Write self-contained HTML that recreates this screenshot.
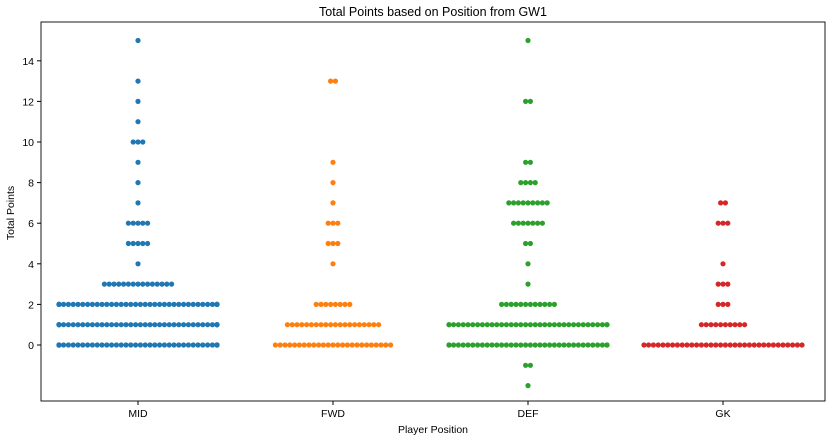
<!DOCTYPE html>
<html><head><meta charset="utf-8"><style>
body{margin:0;background:#fff;font-family:"Liberation Sans","DejaVu Sans",sans-serif}
svg text{font-family:"Liberation Sans","DejaVu Sans",sans-serif;fill:#000}
</style></head><body>
<svg id="chart" width="829" height="441">
<text x="433" y="16" text-anchor="middle" font-size="12.5">Total Points based on Position from GW1</text>
<rect x="41" y="22" width="784" height="379" fill="none" stroke="#000" stroke-width="0.9"/>
<g id="yaxis"></g>
<g id="xaxis"></g>
<g id="dots"></g>
<text x="433" y="433" text-anchor="middle" font-size="10.5">Player Position</text>
<text transform="translate(14,213) rotate(-90)" text-anchor="middle" font-size="10.5">Total Points</text>
</svg>
<script>
const categories = ["MID","FWD","DEF","GK"];
const colors = ["#1f77b4","#ff7f0e","#2ca02c","#d62728"];
const yTicks = [0,2,4,6,8,10,12,14];
const midValues = [0,1,2,3,4,5,6,7,8,9,10,11,12,13,15];
const midCounts = [40,40,40,15,1,5,5,1,1,1,3,1,1,1,1];
const fwdValues = [0,1,2,4,5,6,7,8,9,13];
const fwdCounts = [25,20,8,1,3,3,1,1,1,2];
const defValues = [-2,-1,0,1,2,3,4,5,6,7,8,9,12,15];
const defCounts = [1,2,36,36,12,1,1,2,7,9,4,2,2,1];
const gkValues = [0,1,2,3,4,6,7];
const gkCounts = [34,10,3,3,1,3,2];
const seriesValues = [midValues,fwdValues,defValues,gkValues];
const seriesCounts = [midCounts,fwdCounts,defCounts,gkCounts];

const NS="http://www.w3.org/2000/svg";
function yScale(v){return 345 - v*20.3;}
function xScale(i){return 138 + i*195;}
const ya=document.getElementById('yaxis'),xa=document.getElementById('xaxis'),dg=document.getElementById('dots');
yTicks.forEach(t=>{
  const l=document.createElementNS(NS,'line');
  l.setAttribute('x1',37);l.setAttribute('x2',41);l.setAttribute('y1',yScale(t));l.setAttribute('y2',yScale(t));l.setAttribute('stroke','#000');
  
  
  ya.appendChild(l);
  const tx=document.createElementNS(NS,'text');
  tx.setAttribute('x',34);tx.setAttribute('y',yScale(t)+4);tx.setAttribute('text-anchor','end');tx.setAttribute('font-size','10.5');
  tx.textContent=t;
  
  
  ya.appendChild(tx);
});
categories.forEach((c,i)=>{
  const l=document.createElementNS(NS,'line');
  l.setAttribute('x1',xScale(i));l.setAttribute('x2',xScale(i));l.setAttribute('y1',401);l.setAttribute('y2',405);l.setAttribute('stroke','#000');
  
  
  xa.appendChild(l);
  const tx=document.createElementNS(NS,'text');
  tx.setAttribute('x',xScale(i));tx.setAttribute('y',417);tx.setAttribute('text-anchor','middle');tx.setAttribute('font-size','10.5');
  tx.textContent=c;
  
  
  xa.appendChild(tx);
  const vals=seriesValues[i],cnts=seriesCounts[i];
  vals.forEach((v,k)=>{
    const n=cnts[k];
    for(let j=0;j<n;j++){
      let off=(j-(n-1)/2)*4.8;
      off=Math.max(-79,Math.min(79,off));
      const d=document.createElementNS(NS,'circle');
      d.setAttribute('cx',xScale(i)+off);d.setAttribute('cy',yScale(v));d.setAttribute('r',2.6);
      d.setAttribute('fill',colors[i]);
      
      
      dg.appendChild(d);
    }
  });
});
</script>
</body></html>
